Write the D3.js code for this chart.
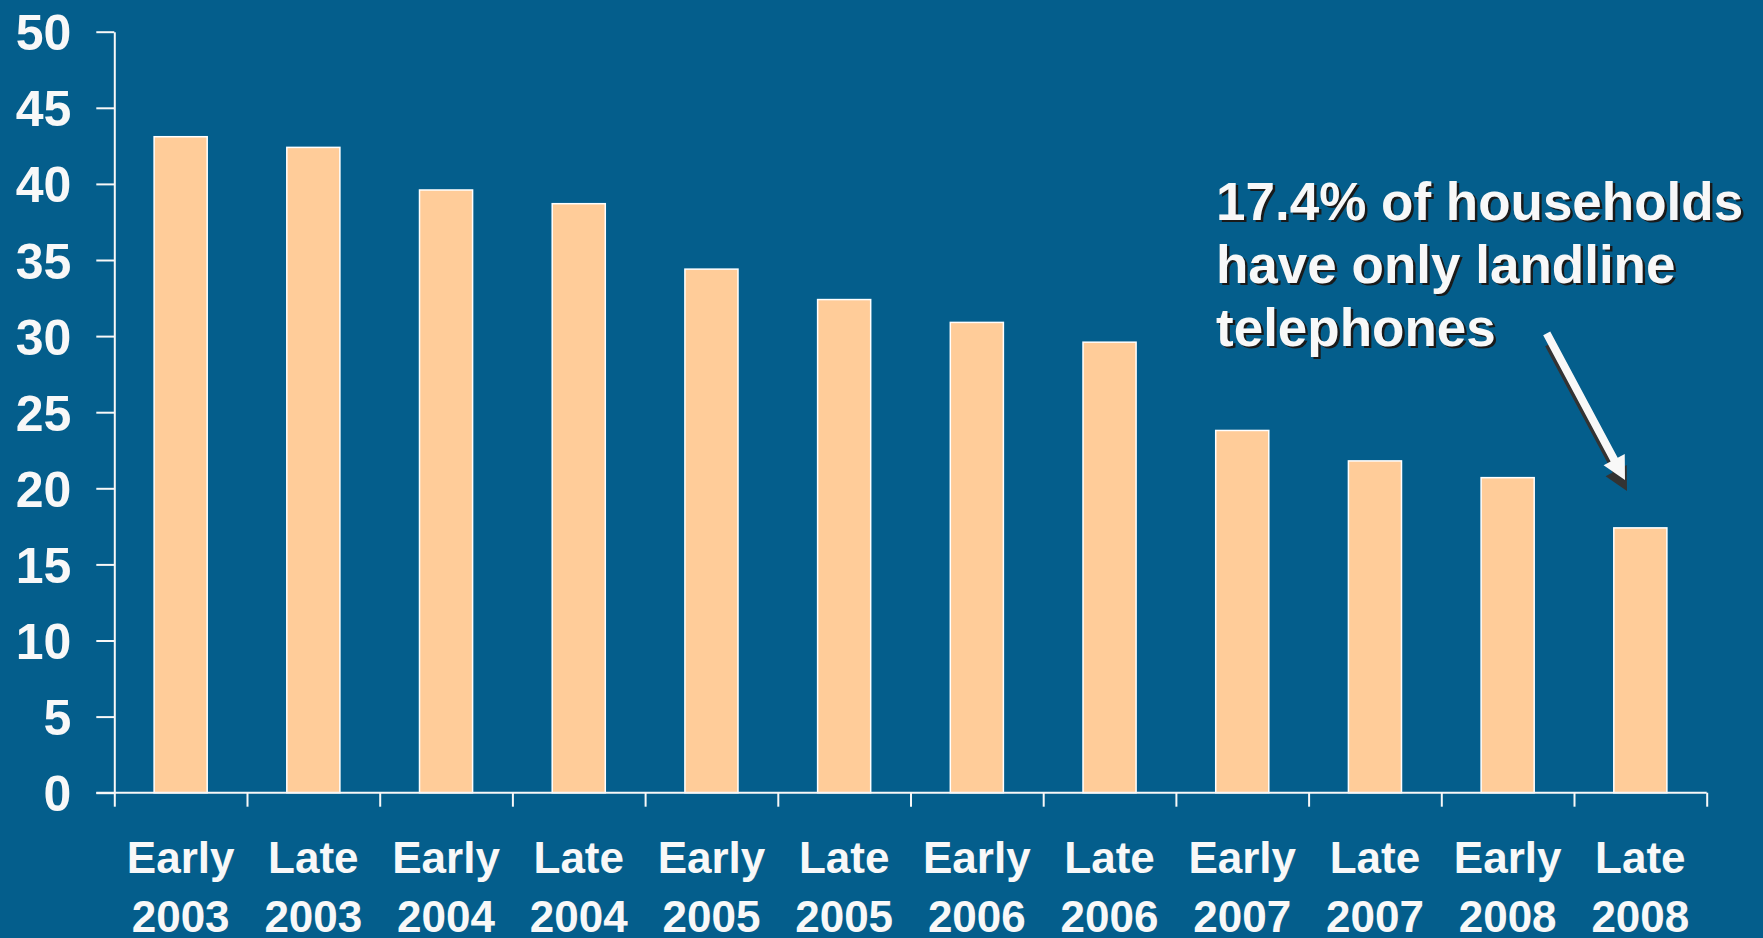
<!DOCTYPE html>
<html>
<head>
<meta charset="utf-8">
<script src="https://cdn.jsdelivr.net/npm/d3@7"></script>
<style>
  html, body { margin: 0; padding: 0; background: #045e8c; }
  svg { display: block; }
  text { font-family: "Liberation Sans", Arial, sans-serif; font-weight: bold; }
</style>
</head>
<body>
<svg id="chart"></svg>
<script>
// landline-only households, %
var periods = ["Early 2003", "Late 2003", "Early 2004", "Late 2004", "Early 2005", "Late 2005",
               "Early 2006", "Late 2006", "Early 2007", "Late 2007", "Early 2008", "Late 2008"];
var values = [43.1, 42.4, 39.6, 38.7, 34.4, 32.4, 30.9, 29.6, 23.8, 21.8, 20.7, 17.4];
var yTicks = [0, 5, 10, 15, 20, 25, 30, 35, 40, 45, 50];
var noteLines = ["17.4% of households", "have only landline", "telephones"];

var width = 1763;
var height = 938;
var plotLeft = 114.3, plotRight = 1706.7, plotTop = 31.7, plotBottom = 792.7;
var textColor = "#f8f8f8";

function drawChart()
{
	var svg = d3.select("#chart")
		.attr("width", width)
		.attr("height", height);

	svg.append("rect")
		.attr("width", width)
		.attr("height", height)
		.attr("fill", "#045e8c");

	var y = d3.scaleLinear()
		.domain([0, 50])
		.range([plotBottom, plotTop]);

	// bars sit in the middle 40% of each category slot
	var x = d3.scaleBand()
		.domain(periods)
		.range([plotLeft, plotRight])
		.paddingInner(0.6)
		.paddingOuter(0.3);

	// slot boundaries for the x ticks
	var xSlots = d3.scaleLinear()
		.domain([0, periods.length])
		.range([plotLeft, plotRight]);

	svg.append("g")
		.selectAll("rect")
		.data(values)
		.enter()
		.append("rect")
		.attr("x", function(d, i) { return x(periods[i]); })
		.attr("y", function(d) { return y(d); })
		.attr("width", x.bandwidth())
		.attr("height", function(d) { return plotBottom - y(d); })
		.attr("fill", "#ffcc99")
		.attr("stroke", "#ffffff")
		.attr("stroke-width", 1.5);

	var yAxis = d3.axisLeft(y)
		.tickValues(yTicks)
		.tickSize(18)
		.tickSizeOuter(0)
		.tickPadding(25);

	var gy = svg.append("g")
		.attr("transform", "translate(" + plotLeft + ",0)")
		.call(yAxis);
	gy.selectAll("line, path").attr("stroke", textColor).attr("stroke-width", 2);
	gy.selectAll("text")
		.attr("fill", textColor)
		.style("font-size", "50px")
		.attr("dy", "0.36em");

	var xAxis = d3.axisBottom(xSlots)
		.tickValues(d3.range(0, periods.length + 1))
		.tickSize(14)
		.tickSizeOuter(0)
		.tickFormat("");

	var gx = svg.append("g")
		.attr("transform", "translate(0," + plotBottom + ")")
		.call(xAxis);
	gx.select(".domain").remove();
	gx.selectAll("line").attr("stroke", textColor).attr("stroke-width", 2);
	gx.append("line")
		.attr("x1", plotLeft - 18)
		.attr("x2", plotRight)
		.attr("stroke", textColor)
		.attr("stroke-width", 2);

	// two-line category labels
	var labels = svg.append("g")
		.selectAll("text")
		.data(periods)
		.enter()
		.append("text")
		.attr("text-anchor", "middle")
		.attr("fill", textColor)
		.style("font-size", "44px");
	labels.each(function(d) {
		var parts = d.split(" ");
		var t = d3.select(this);
		var cx = x(d) + x.bandwidth() / 2;
		t.append("tspan").attr("x", cx).attr("y", 873).text(parts[0]);
		t.append("tspan").attr("x", cx).attr("y", 932).text(parts[1]);
	});

	drawNote(svg);
}

function drawNote(svg)
{
	var note = svg.append("g");

	// drop shadow first, then the white text
	[["#1a1a1a", 2.5, 2.5], [textColor, 0, 0]].forEach(function(s) {
		note.append("g")
			.selectAll("text")
			.data(noteLines)
			.enter()
			.append("text")
			.attr("x", 1216 + s[1])
			.attr("y", function(d, i) { return 219.5 + i * 63 + s[2]; })
			.attr("fill", s[0])
			.style("font-size", "53px")
			.text(function(d) { return d; });
	});

	// arrow pointing at the last bar
	var start = [1546.7, 333.3], tip = [1625, 480];
	var dx = tip[0] - start[0], dy = tip[1] - start[1];
	var len = Math.sqrt(dx * dx + dy * dy);
	var ux = dx / len, uy = dy / len;
	var nx = -uy, ny = ux;
	var headLen = 23, headHalf = 12, shaftHalf = 4;
	var bx = tip[0] - ux * headLen, by = tip[1] - uy * headLen;
	var pts = [
		[start[0] + nx * shaftHalf, start[1] + ny * shaftHalf],
		[bx + nx * shaftHalf, by + ny * shaftHalf],
		[bx + nx * headHalf, by + ny * headHalf],
		tip,
		[bx - nx * headHalf, by - ny * headHalf],
		[bx - nx * shaftHalf, by - ny * shaftHalf],
		[start[0] - nx * shaftHalf, start[1] - ny * shaftHalf]
	];
	var line = d3.line();

	note.append("path")
		.attr("d", line(pts) + "Z")
		.attr("transform", "translate(2,11)")
		.attr("fill", "#333333");
	note.append("path")
		.attr("d", line(pts) + "Z")
		.attr("fill", textColor);
}

drawChart();
</script>
</body>
</html>
